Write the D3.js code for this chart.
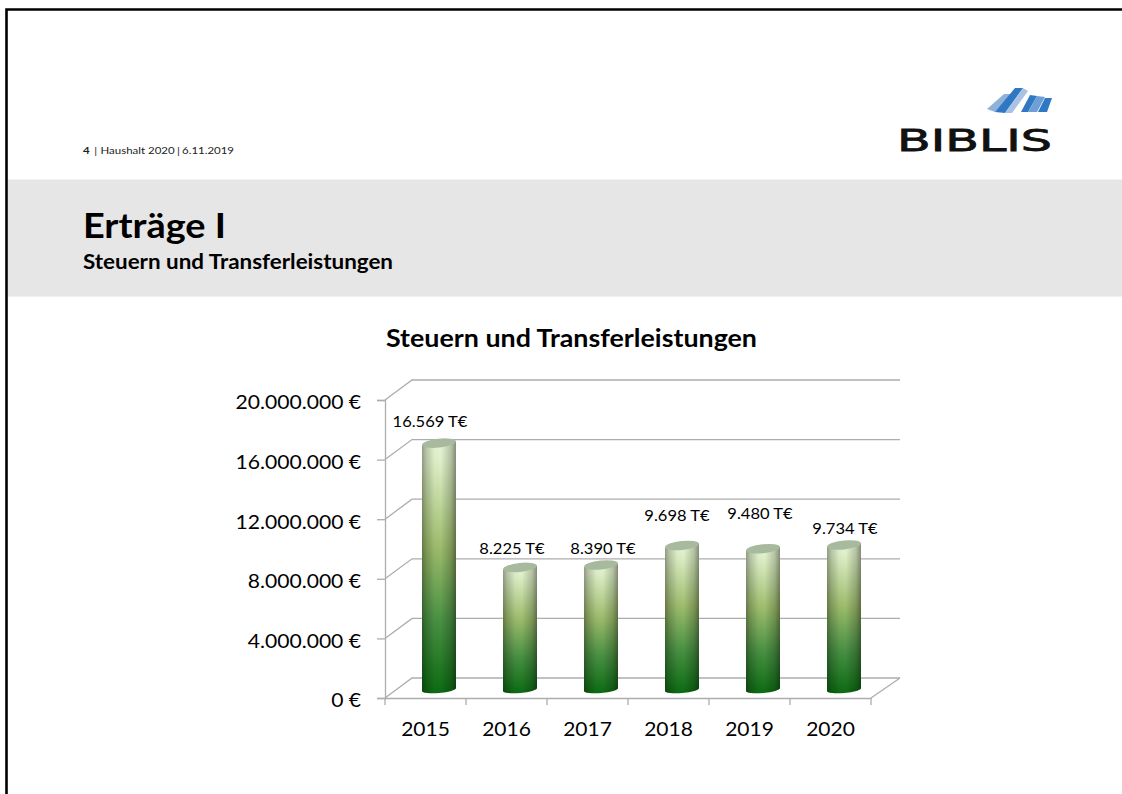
<!DOCTYPE html>
<html><head><meta charset="utf-8">
<script src="https://cdn.jsdelivr.net/npm/d3@7/dist/d3.min.js"></script>
<style>html,body{margin:0;padding:0;background:#fff}svg{display:block}text{font-family:Lato,"Open Sans",sans-serif}</style>
</head><body><svg id="c" width="1122" height="794"></svg>
<script>
const years = ["2015","2016","2017","2018","2019","2020"];
const values = [16569000, 8225000, 8390000, 9698000, 9480000, 9734000];
const valueLabels = ["16.569 T€","8.225 T€","8.390 T€","9.698 T€","9.480 T€","9.734 T€"];
const labelDx = [-9,-8,2,-5,-3,1];
const labelDy = [-17,-14,-12,-25,-31,-12];
const yTicks = [0,4000000,8000000,12000000,16000000,20000000];
const fmt = d3.formatLocale({decimal:",",thousands:".",grouping:[3],currency:["","€"]}).format(",.0f");

const svg = d3.select("#c");
const W=1122,H=794;
function stretch(sel,k){ sel.each(function(){ const n=this; n.setAttribute("textLength",n.getComputedTextLength()*k); n.setAttribute("lengthAdjust","spacingAndGlyphs"); }); return sel; }

svg.append("rect").attr("width",W).attr("height",H).attr("fill","#fff");
svg.append("rect").attr("x",8).attr("y",179.5).attr("width",W-8).attr("height",117).attr("fill","#e6e6e6");
svg.append("path").attr("d","M6.5,794V9.5H1122").attr("fill","none").attr("stroke","#000").attr("stroke-width",2.6);

svg.append("text").attr("x",83).attr("y",154).attr("font-size",10).attr("fill","#222").attr("textLength",151).attr("lengthAdjust","spacingAndGlyphs")
  .html('<tspan font-weight="700">4</tspan><tspan dx="4">|</tspan><tspan dx="3">Haushalt 2020</tspan><tspan dx="2">|</tspan><tspan dx="2">6.11.2019</tspan>');
svg.append("text").attr("x",83).attr("y",238).attr("font-size",35).attr("font-weight",700).attr("fill","#000").attr("textLength",143).attr("lengthAdjust","spacingAndGlyphs").text("Erträge I");
svg.append("text").attr("x",83).attr("y",269).attr("font-size",21).attr("font-weight",700).attr("fill","#000").attr("textLength",310).attr("lengthAdjust","spacingAndGlyphs").text("Steuern und Transferleistungen");
svg.append("text").attr("x",571.5).attr("y",347).attr("text-anchor","middle").attr("font-size",25).attr("font-weight",700).attr("fill","#000").attr("textLength",371).attr("lengthAdjust","spacingAndGlyphs").text("Steuern und Transferleistungen");

// logo
const logo = svg.append("g");
[["M987,109L1004,94L1012,94L995,112Z","#8fb2dc"],["M995,112L1015,88L1023,88L1005,113Z","#2f78c4"],["M1005,113L1023,88L1028,91L1012,113Z","#a9c3e4"],
 ["M1021,112L1030,95L1037,96L1028,112Z","#2f78c4"],["M1028,112L1037,96L1045,97L1037,112Z","#6f9fd6"],["M1038,112L1045,98L1052,98L1047,112Z","#2f78c4"]]
 .forEach(p=>logo.append("path").attr("d",p[0]).attr("fill",p[1]));
logo.append("text").attr("x",897).attr("y",150.5).attr("font-size",31).attr("stroke","#111").attr("stroke-width",0.8)
  .attr("textLength",155).attr("lengthAdjust","spacingAndGlyphs").style("font-family","'DejaVu Sans'").attr("fill","#111").text("BIBLIS");

// chart scales
const x = d3.scaleBand().domain(years).range([385,871]);
const y = d3.scaleLinear().domain([0,20000000]).range([698,400]);
const depthX = 27, depthY = -20;
const barDY = -7, barW = 34;

const defs = svg.append("defs");
const vg = defs.append("linearGradient").attr("id","vg").attr("x1",0).attr("x2",0).attr("y1",0).attr("y2",1);
[[0,"#e6f5d4"],[0.08,"#deefc8"],[0.42,"#9dbc6c"],[0.72,"#478f42"],[1,"#0c6b12"]].forEach(s=>vg.append("stop").attr("offset",s[0]).attr("stop-color",s[1]));
const hg = defs.append("linearGradient").attr("id","hg");
[[0,0.36],[0.12,0.2],[0.36,0.02],[0.55,0],[0.85,0.2],[1,0.42]].forEach(s=>hg.append("stop").attr("offset",s[0]).attr("stop-color","#000").attr("stop-opacity",s[1]));

// walls and grid
const grey="#adadad";
const g = svg.append("g").attr("fill","none").attr("stroke",grey).attr("stroke-width",1.3);
yTicks.forEach(t=>{
  g.append("path").attr("d",`M385,${y(t)}L${385+depthX},${y(t)+depthY}H900`);
});
g.append("path").attr("d",`M871,${y(0)}L900,${y(0)+depthY}`);

// axes
const ya = svg.append("g").attr("transform","translate(385,0)").call(d3.axisLeft(y).tickValues(yTicks).tickSize(8).tickFormat(d=>fmt(d)+" €"));
ya.selectAll("path,line").attr("stroke",grey).attr("stroke-width",1.3);
ya.selectAll("text").attr("font-size",20).attr("fill","#000").attr("x",-24).attr("dy","0.44em").style("font-family","Lato");
stretch(ya.selectAll("text"),1.055);
const xa = svg.append("g").attr("transform",`translate(0,${y(0)})`).call(d3.axisBottom(x).tickSize(0).tickPadding(24));
xa.select("path").attr("stroke",grey).attr("stroke-width",1.3);
xa.selectAll("text").attr("font-size",20).attr("fill","#000").style("font-family","Lato");
stretch(xa.selectAll("text"),1.05);
svg.append("g").attr("stroke",grey).attr("stroke-width",1.3).selectAll("line")
  .data(years.concat(["end"])).join("line")
  .attr("x1",(d,i)=>x.range()[0]+i*x.bandwidth()).attr("x2",(d,i)=>x.range()[0]+i*x.bandwidth())
  .attr("y1",y(0)).attr("y2",y(0)+7);

// bars
const bars = svg.append("g").selectAll("g").data(years).join("g");
const rx=barW/2, ry=4.5;
bars.each(function(d,i){
  const s=d3.select(this);
  const l=x(d)+(x.bandwidth()-barW)/2+13.5, r=l+barW, cx=(l+r)/2;
  const yb=y(0)+barDY, yt=y(values[i])+barDY;
  const body=`M${l},${yt+1}L${l},${yb}A${rx},3.5 -5 0 0 ${r},${yb-3}L${r},${yt-3}Z`;
  s.append("path").attr("d",body).attr("fill","url(#vg)");
  s.append("path").attr("d",body).attr("fill","url(#hg)");
  s.append("ellipse").attr("cx",cx).attr("cy",yt-1).attr("rx",rx).attr("ry",ry).attr("fill","#a8ba9e")
   .attr("transform",`rotate(-6 ${cx} ${yt-1})`);
  const t=s.append("text").attr("x",cx+labelDx[i]).attr("y",yt+labelDy[i])
    .attr("text-anchor","middle").attr("font-size",15.5).attr("fill","#000").text(valueLabels[i]);
  stretch(t,1.065);
});
</script></body></html>
